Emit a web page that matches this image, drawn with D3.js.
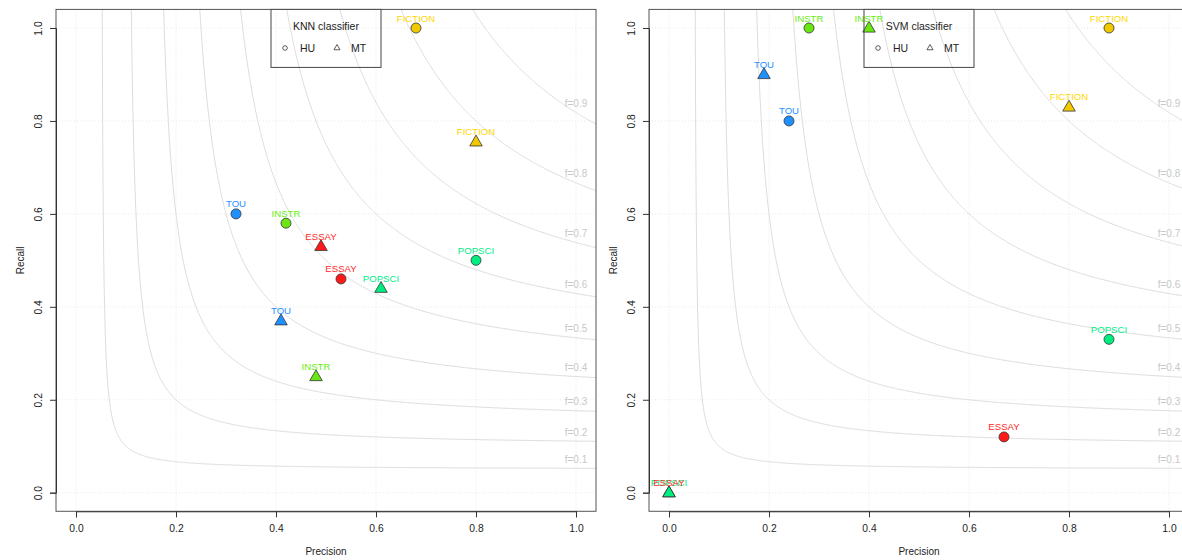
<!DOCTYPE html>
<html>
<head>
<meta charset="utf-8">
<script src="https://cdnjs.cloudflare.com/ajax/libs/d3/7.8.5/d3.min.js"></script>
<style>
  body { margin: 0; background: #fff; }
  svg { display: block; font-family: "Liberation Sans", Arial, Helvetica, sans-serif; }
  .tick-label { font-size: 10.3px; fill: #222; }
  .axis-title { font-size: 10px; fill: #222; }
  .f-label { font-size: 10px; fill: #c8c8c8; }
  .point-label { font-size: 9.6px; }
  .legend-text { font-size: 10.5px; fill: #222; }
</style>
</head>
<body>
<div id="chart"></div>
<script>
// genre classes and their colours
const classes = ["FICTION", "TOU", "INSTR", "ESSAY", "POPSCI"];
const classColors = ["#f2c800", "#1e90ff", "#6ae612", "#ff1a1a", "#00ee80"];
const labelColors = ["#ffd700", "#1e90ff", "#66ee11", "#ff2a2a", "#00ee88"];

// KNN classifier
const knnHuPrecision = [0.68, 0.32, 0.42, 0.53, 0.80];
const knnHuRecall    = [1.00, 0.60, 0.58, 0.46, 0.50];
const knnMtPrecision = [0.80, 0.41, 0.48, 0.49, 0.61];
const knnMtRecall    = [0.755, 0.37, 0.25, 0.53, 0.44];

// SVM classifier
const svmHuPrecision = [0.88, 0.24, 0.28, 0.67, 0.88];
const svmHuRecall    = [1.00, 0.80, 1.00, 0.12, 0.33];
const svmMtPrecision = [0.80, 0.19, 0.40, 0.00, 0.00];
const svmMtRecall    = [0.83, 0.90, 1.00, 0.00, 0.00];

const fLevels = [0.1, 0.2, 0.3, 0.4, 0.5, 0.6, 0.7, 0.8, 0.9];
const ticks = [0, 0.2, 0.4, 0.6, 0.8, 1.0];

const W = 1182, H = 560;
const svg = d3.select("#chart").append("svg").attr("width", W).attr("height", H);

function panel(idx, title, huP, huR, mtP, mtR) {
  const x0 = idx === 0 ? 76 : 669;
  const x = d3.scaleLinear().domain([0, 1]).range([x0, x0 + 500]);
  const y = d3.scaleLinear().domain([0, 1]).range([492.7, 28]);
  const left = x(-0.04), right = x(1.04), top = y(1.04), bottom = y(-0.04);

  const g = svg.append("g").attr("class", "panel-" + idx);
  const clipId = "clip" + idx;
  g.append("clipPath").attr("id", clipId)
    .append("rect")
    .attr("x", left).attr("y", top)
    .attr("width", right - left).attr("height", bottom - top);

  // dotted grid
  const grid = g.append("g").attr("stroke", "#e4e4e4").attr("stroke-dasharray", "1,2").attr("stroke-width", 0.8);
  ticks.forEach(t => {
    grid.append("line").attr("x1", x(t)).attr("x2", x(t)).attr("y1", top).attr("y2", bottom);
    grid.append("line").attr("x1", left).attr("x2", right).attr("y1", y(t)).attr("y2", y(t));
  });

  // iso F-measure curves: R = f*P / (2P - f)
  const curves = g.append("g").attr("clip-path", "url(#" + clipId + ")");
  const line = d3.line().x(d => x(d[0])).y(d => y(d[1]));
  fLevels.forEach(f => {
    const pts = [];
    const pMin = f / 2 + 0.0005;
    for (let i = 0; i <= 600; i++) {
      const p = pMin + (1.05 - pMin) * Math.pow(i / 600, 2);
      const r = f * p / (2 * p - f);
      if (r > 1.3) continue;
      pts.push([p, r]);
    }
    curves.append("path").attr("d", line(pts))
      .attr("fill", "none").attr("stroke", "#dcdcdc").attr("stroke-width", 1);
    g.append("text").attr("class", "f-label")
      .attr("x", x(1)).attr("y", y(f / (2 - f)) - 9)
      .attr("text-anchor", "middle").attr("dominant-baseline", "central")
      .text("f=" + f);
  });

  // points
  const pts = g.append("g");
  const tri = d3.symbol().type(d3.symbolTriangle).size(68);
  classes.forEach((c, i) => {
    pts.append("circle")
      .attr("cx", x(huP[i])).attr("cy", y(huR[i])).attr("r", 5)
      .attr("fill", classColors[i]).attr("stroke", "#333").attr("stroke-width", 0.8);
  });
  classes.forEach((c, i) => {
    pts.append("path").attr("d", tri)
      .attr("transform", `translate(${x(mtP[i])},${y(mtR[i]) + 0.5})`)
      .attr("fill", classColors[i]).attr("stroke", "#333").attr("stroke-width", 0.8);
  });
  // labels (reverse order so earlier classes end on top)
  const labels = g.append("g").attr("text-anchor", "middle").attr("dominant-baseline", "central");
  classes.slice().reverse().forEach(c => {
    const i = classes.indexOf(c);
    labels.append("text").attr("class", "point-label")
      .attr("x", x(huP[i])).attr("y", y(huR[i]) - 10)
      .attr("fill", labelColors[i]).text(c);
    labels.append("text").attr("class", "point-label")
      .attr("x", x(mtP[i])).attr("y", y(mtR[i]) - 10)
      .attr("fill", labelColors[i]).text(c);
  });

  // legend
  const lx = x(0.39), lw = 110;
  const leg = g.append("g");
  leg.append("rect").attr("x", lx).attr("y", top).attr("width", lw).attr("height", 58)
    .attr("fill", "none").attr("stroke", "#444").attr("stroke-width", 1);
  leg.append("text").attr("class", "legend-text").attr("x", lx + lw / 2).attr("y", 26)
    .attr("text-anchor", "middle").attr("dominant-baseline", "central").text(title);
  leg.append("circle").attr("cx", lx + 14).attr("cy", 48).attr("r", 2.3)
    .attr("fill", "none").attr("stroke", "#333").attr("stroke-width", 0.8);
  leg.append("text").attr("class", "legend-text").attr("x", lx + 29).attr("y", 48)
    .attr("dominant-baseline", "central").text("HU");
  leg.append("path").attr("d", d3.symbol().type(d3.symbolTriangle).size(16))
    .attr("transform", `translate(${lx + 66},${48})`)
    .attr("fill", "none").attr("stroke", "#333").attr("stroke-width", 0.8);
  leg.append("text").attr("class", "legend-text").attr("x", lx + 80).attr("y", 48)
    .attr("dominant-baseline", "central").text("MT");

  // box
  g.append("rect").attr("x", left).attr("y", top).attr("width", right - left).attr("height", bottom - top)
    .attr("fill", "none").attr("stroke", "#555").attr("stroke-width", 1);

  // axes
  const xAxis = g.append("g").attr("transform", `translate(0,${bottom})`)
    .call(d3.axisBottom(x).tickValues(ticks).tickFormat(d3.format(".1f")).tickSizeOuter(0).tickSize(6).tickPadding(7));
  xAxis.select(".domain").attr("stroke", "#333");
  xAxis.selectAll(".tick line").attr("stroke", "#333");
  xAxis.selectAll("text").attr("class", "tick-label").attr("fill", "#222").attr("font-size", null).attr("font-family", null);

  const yAxis = g.append("g").attr("transform", `translate(${left},0)`)
    .call(d3.axisLeft(y).tickValues(ticks).tickFormat(d3.format(".1f")).tickSizeOuter(0).tickSize(6));
  yAxis.select(".domain").attr("stroke", "#333");
  yAxis.selectAll(".tick line").attr("stroke", "#333");
  yAxis.selectAll("text")
    .attr("class", "tick-label").attr("fill", "#222").attr("font-size", null).attr("font-family", null)
    .attr("x", null).attr("dy", null)
    .attr("text-anchor", "middle").attr("dominant-baseline", "central")
    .attr("transform", `translate(${-18},0) rotate(-90)`);
  xAxis.attr("font-family", null).attr("font-size", null);
  yAxis.attr("font-family", null).attr("font-size", null);

  g.append("text").attr("class", "axis-title")
    .attr("x", x(0.5)).attr("y", 551).attr("text-anchor", "middle").attr("dominant-baseline", "central")
    .text("Precision");
  g.append("text").attr("class", "axis-title")
    .attr("transform", `translate(${left - 36},${y(0.5)}) rotate(-90)`)
    .attr("text-anchor", "middle").attr("dominant-baseline", "central")
    .text("Recall");
}

panel(0, "KNN classifier", knnHuPrecision, knnHuRecall, knnMtPrecision, knnMtRecall);
panel(1, "SVM classifier", svmHuPrecision, svmHuRecall, svmMtPrecision, svmMtRecall);
</script>
</body>
</html>
